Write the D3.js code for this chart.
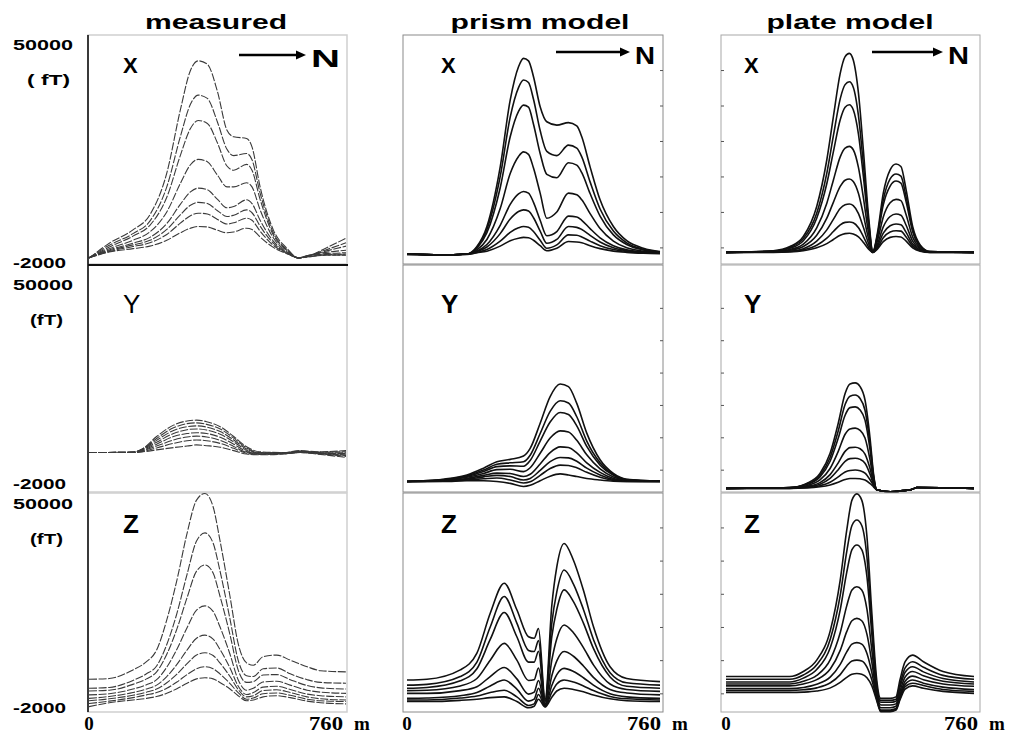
<!DOCTYPE html>
<html>
<head>
<meta charset="utf-8">
<script src="https://cdn.jsdelivr.net/npm/d3@7"></script>
<style>
  body { margin: 0; background: #fff; }
  svg { display: block; }
</style>
</head>
<body>
<svg id="chart" width="1011" height="738"></svg>
<script>
// column titles, component labels and axis labels
const colTitles = ["measured", "prism model", "plate model"];
const rowLabels = ["X", "Y", "Z"];
const yTopLabel = "50000", yBotLabel = "-2000", yDomain = [-2000, 50000];
const xDomain = [0, 760];
const xLabels = ["0", "760", "m"];

// curve values are in units of 1000 fT, sampled along the profile (m)
const measXpos = [0, 60, 130, 180, 230, 270, 300, 323, 350, 380, 408, 428, 466, 482, 506, 545, 585, 620, 645, 700, 760];
const measX = [
  [-1.1, 2.5, 5.7, 9.3, 19.3, 34.4, 43.9, 46.2, 45.4, 38.8, 29.6, 28.0, 27.6, 25.6, 16.0, 5.7, 1.3, -1.1, -0.7, 1.3, 3.7],
  [-1.0, 2.0, 4.8, 7.8, 16.0, 28.0, 35.8, 38.0, 37.2, 31.5, 25.0, 23.5, 24.0, 22.5, 14.5, 5.0, 1.0, -1.0, -0.6, 0.9, 2.6],
  [-1.0, 1.6, 4.2, 6.8, 13.5, 23.5, 30.0, 31.9, 31.2, 26.5, 21.0, 20.0, 21.4, 20.0, 13.0, 4.5, 0.8, -1.0, -0.5, 0.6, 1.8],
  [-1.0, 1.2, 3.2, 5.2, 10.0, 16.8, 21.3, 22.6, 22.0, 18.8, 16.0, 16.0, 17.0, 16.0, 10.5, 3.8, 0.5, -1.0, -0.5, 0.3, 0.8],
  [-1.0, 0.9, 2.5, 3.9, 7.2, 11.8, 14.8, 15.7, 15.3, 13.0, 11.0, 11.3, 12.9, 12.0, 8.0, 3.0, 0.3, -1.0, -0.6, 0.0, 0.2],
  [-1.0, 0.7, 2.1, 3.2, 5.8, 9.3, 11.6, 12.3, 12.0, 10.3, 8.9, 9.2, 10.5, 9.8, 6.6, 2.5, 0.2, -1.0, -0.7, -0.2, -0.1],
  [-1.0, 0.5, 1.7, 2.6, 4.6, 7.3, 9.1, 9.7, 9.5, 8.2, 7.1, 7.4, 8.5, 8.0, 5.4, 2.0, 0.1, -1.0, -0.8, -0.3, -0.3],
  [-1.0, 0.4, 1.2, 1.8, 3.2, 5.0, 6.1, 6.5, 6.4, 5.6, 5.0, 5.2, 6.1, 5.8, 4.0, 1.5, 0.0, -1.0, -0.8, -0.4, -0.4]
];

const prismXpos = [0, 100, 180, 210, 240, 280, 310, 335, 350, 365, 380, 400, 420, 450, 485, 510, 525, 550, 580, 620, 660, 710, 760];
const prismX = [
  [-0.1, -0.3, -0.1, 1.7, 6.5, 20.8, 36.8, 44.8, 46.8, 46.2, 42.4, 35.2, 31.6, 30.8, 31.4, 30.6, 28.0, 20.8, 12.9, 6.5, 3.1, 1.3, 0.5],
  [-0.1, -0.3, -0.1, 1.5, 5.8, 18.5, 32.7, 39.8, 41.6, 41.0, 37.0, 29.5, 24.5, 23.5, 26.0, 25.3, 23.2, 17.2, 10.7, 5.4, 2.6, 1.1, 0.4],
  [-0.1, -0.3, -0.1, 1.3, 5.0, 15.8, 28.0, 34.1, 35.6, 35.1, 31.0, 24.0, 19.0, 18.2, 21.8, 21.2, 19.4, 14.4, 9.0, 4.5, 2.2, 0.9, 0.3],
  [-0.1, -0.3, -0.1, 0.9, 3.4, 10.8, 19.2, 23.3, 24.4, 23.8, 20.5, 14.5, 8.5, 10.0, 14.5, 14.1, 12.9, 9.6, 6.0, 3.0, 1.4, 0.6, 0.2],
  [-0.1, -0.3, -0.1, 0.6, 2.2, 6.8, 11.8, 14.3, 14.9, 14.5, 12.3, 8.0, 4.3, 5.3, 9.0, 8.8, 8.0, 6.0, 3.8, 1.9, 0.9, 0.4, 0.2],
  [-0.1, -0.3, -0.1, 0.5, 1.6, 4.8, 8.3, 10.1, 10.5, 10.2, 8.6, 5.4, 2.5, 3.4, 6.5, 6.3, 5.8, 4.4, 2.8, 1.4, 0.7, 0.3, 0.1],
  [-0.2, -0.3, -0.1, 0.3, 1.0, 3.0, 5.1, 6.2, 6.5, 6.3, 5.3, 3.2, 1.3, 2.1, 4.5, 4.4, 4.0, 3.0, 1.9, 1.0, 0.5, 0.2, 0.1],
  [-0.2, -0.4, -0.2, 0.2, 0.6, 1.8, 3.1, 3.7, 3.9, 3.8, 3.2, 1.9, 0.7, 1.3, 2.9, 2.8, 2.6, 1.9, 1.2, 0.6, 0.3, 0.1, 0.0]
];

const plateXpos = [0, 145, 196, 237, 278, 309, 329, 350, 365, 378, 390, 406, 421, 437, 450, 464, 482, 503, 521, 536, 552, 572, 595, 625, 760];
const plateX = [
  [0.3, 0.7, 1.7, 4.1, 11.3, 22.5, 32.8, 43.2, 47.2, 48.0, 46.4, 38.4, 24.8, 8.9, 0.5, 4.9, 14.5, 20.1, 21.5, 20.9, 15.3, 6.5, 2.1, 0.5, 0.3],
  [0.3, 0.6, 1.5, 3.6, 9.7, 19.3, 28.2, 37.1, 40.5, 41.2, 39.9, 33.0, 21.3, 7.7, 0.5, 4.4, 12.9, 17.9, 19.1, 18.6, 13.6, 5.8, 1.9, 0.5, 0.3],
  [0.3, 0.6, 1.3, 3.1, 8.5, 16.8, 24.4, 32.1, 35.1, 35.7, 34.5, 28.6, 18.5, 6.7, 0.4, 4.0, 11.7, 16.2, 17.4, 16.9, 12.4, 5.3, 1.7, 0.5, 0.3],
  [0.3, 0.5, 1.0, 2.3, 6.2, 12.1, 17.6, 23.2, 25.3, 25.7, 24.9, 20.6, 13.4, 4.9, 0.4, 3.1, 8.8, 12.2, 13.0, 12.7, 9.3, 4.0, 1.4, 0.4, 0.3],
  [0.3, 0.4, 0.8, 1.7, 4.4, 8.5, 12.3, 16.1, 17.6, 17.9, 17.3, 14.4, 9.3, 3.5, 0.4, 2.3, 6.4, 8.9, 9.5, 9.2, 6.8, 3.0, 1.1, 0.4, 0.3],
  [0.3, 0.4, 0.6, 1.2, 3.0, 5.7, 8.2, 10.8, 11.7, 11.9, 11.5, 9.6, 6.3, 2.4, 0.3, 1.8, 4.9, 6.7, 7.1, 6.9, 5.1, 2.3, 0.9, 0.4, 0.3],
  [0.3, 0.4, 0.5, 0.9, 2.0, 3.7, 5.3, 6.9, 7.5, 7.6, 7.4, 6.2, 4.1, 1.6, 0.3, 1.4, 3.8, 5.2, 5.5, 5.4, 4.0, 1.8, 0.7, 0.3, 0.3],
  [0.3, 0.3, 0.4, 0.7, 1.4, 2.4, 3.4, 4.4, 4.8, 4.9, 4.7, 4.0, 2.7, 1.1, 0.3, 1.1, 2.9, 3.9, 4.1, 4.0, 3.0, 1.4, 0.6, 0.3, 0.3]
];

const measYpos = [0, 130, 160, 200, 250, 290, 318, 348, 388, 428, 466, 505, 575, 625, 675, 760];
const measY = [
  [6.0, 6.1, 7.1, 10.2, 13.2, 14.3, 14.5, 14.1, 12.8, 10.2, 7.5, 6.2, 6.0, 6.5, 6.2, 6.5],
  [6.0, 6.1, 7.0, 9.7, 12.5, 13.6, 13.8, 13.4, 12.2, 9.8, 7.2, 6.0, 5.9, 6.4, 6.1, 6.2],
  [6.0, 6.1, 6.9, 9.2, 11.8, 12.8, 13.0, 12.7, 11.5, 9.3, 6.9, 5.9, 5.9, 6.3, 6.0, 5.9],
  [6.0, 6.1, 6.8, 8.7, 11.0, 12.0, 12.2, 11.9, 10.8, 8.8, 6.6, 5.8, 5.8, 6.2, 5.9, 5.7],
  [6.0, 6.0, 6.6, 8.2, 10.2, 11.0, 11.2, 11.0, 10.0, 8.2, 6.3, 5.7, 5.8, 6.1, 5.8, 5.4],
  [6.0, 6.0, 6.5, 7.7, 9.3, 10.1, 10.3, 10.1, 9.2, 7.6, 6.0, 5.6, 5.7, 6.1, 5.8, 5.2],
  [6.0, 6.0, 6.3, 7.2, 8.4, 9.1, 9.3, 9.1, 8.4, 7.1, 5.8, 5.5, 5.7, 6.0, 5.7, 5.0],
  [6.0, 6.0, 6.2, 6.7, 7.3, 7.7, 8.0, 7.8, 7.4, 6.5, 5.6, 5.4, 5.6, 6.0, 5.6, 4.7]
];

const prismYpos = [0, 110, 180, 230, 270, 310, 350, 370, 400, 430, 460, 485, 510, 540, 580, 620, 660, 760];
const prismY = [
  [-1.6, -1.0, 0.1, 1.9, 3.6, 4.2, 5.1, 7.1, 13.7, 20.7, 24.0, 23.3, 18.9, 11.1, 4.1, 0.5, -1.0, -1.5],
  [-1.6, -1.1, -0.1, 1.4, 2.9, 3.3, 3.6, 5.3, 11.0, 16.8, 19.6, 19.0, 15.4, 9.0, 3.3, 0.2, -1.1, -1.5],
  [-1.6, -1.2, -0.3, 1.0, 2.3, 2.5, 2.4, 3.9, 9.0, 14.0, 16.5, 16.0, 13.0, 7.6, 2.7, 0.0, -1.2, -1.5],
  [-1.6, -1.3, -0.5, 0.5, 1.5, 1.6, 1.0, 2.0, 5.8, 9.8, 11.7, 11.4, 9.2, 5.4, 1.7, -0.4, -1.3, -1.5],
  [-1.6, -1.4, -0.8, 0.0, 0.6, 0.5, -0.3, 0.3, 3.0, 6.0, 7.5, 7.3, 5.9, 3.3, 0.8, -0.8, -1.4, -1.6],
  [-1.6, -1.4, -1.0, -0.4, 0.0, -0.3, -1.2, -0.8, 1.3, 3.6, 4.7, 4.6, 3.7, 1.9, 0.1, -1.1, -1.5, -1.6],
  [-1.6, -1.5, -1.2, -0.9, -0.7, -1.2, -2.0, -1.7, 0.0, 1.8, 2.7, 2.6, 2.0, 0.8, -0.5, -1.3, -1.6, -1.6],
  [-1.6, -1.6, -1.4, -1.4, -1.6, -2.1, -2.9, -2.6, -1.4, -0.2, 0.4, 0.1, -0.3, -0.8, -1.2, -1.5, -1.6, -1.6]
];

const plateYpos = [0, 195, 247, 288, 319, 344, 365, 380, 396, 411, 426, 442, 452, 462, 503, 543, 569, 585, 760];
const plateY = [
  [-3.4, -3.2, -2.1, 0.5, 5.8, 13.7, 21.5, 24.0, 24.3, 23.3, 19.8, 9.3, 0.5, -3.8, -4.3, -4.0, -3.7, -3.2, -3.4],
  [-3.4, -3.2, -2.3, 0.0, 4.7, 11.7, 18.6, 20.8, 21.1, 20.2, 17.1, 7.8, 0.0, -3.8, -4.3, -4.0, -3.7, -3.2, -3.4],
  [-3.4, -3.2, -2.4, -0.4, 3.7, 9.8, 15.8, 17.8, 18.0, 17.2, 14.5, 6.4, -0.4, -3.8, -4.3, -4.0, -3.7, -3.2, -3.4],
  [-3.4, -3.3, -2.7, -1.2, 1.8, 6.3, 10.8, 12.2, 12.4, 11.8, 9.8, 3.8, -1.2, -3.8, -4.3, -4.0, -3.7, -3.2, -3.4],
  [-3.4, -3.3, -2.9, -1.9, 0.2, 3.3, 6.3, 7.3, 7.4, 7.0, 5.6, 1.6, -1.9, -3.8, -4.3, -4.0, -3.7, -3.2, -3.4],
  [-3.4, -3.3, -3.0, -2.3, -0.8, 1.5, 3.7, 4.4, 4.5, 4.2, 3.2, 0.2, -2.3, -3.8, -4.3, -4.0, -3.7, -3.2, -3.4],
  [-3.4, -3.4, -3.2, -2.7, -1.8, -0.4, 0.9, 1.3, 1.4, 1.2, 0.6, -1.2, -2.7, -3.8, -4.3, -4.0, -3.7, -3.2, -3.4],
  [-3.4, -3.4, -3.3, -3.0, -2.5, -1.8, -1.1, -0.8, -0.8, -0.9, -1.2, -2.2, -3.0, -3.8, -4.3, -4.0, -3.7, -3.2, -3.4]
];

const measZpos = [0, 60, 130, 170, 200, 230, 260, 290, 318, 343, 367, 387, 417, 441, 466, 486, 515, 555, 595, 645, 685, 760];
const measZ = [
  [5.1, 5.3, 7.5, 9.6, 12.6, 20.3, 30.5, 42.5, 51.0, 52.7, 49.3, 40.8, 26.3, 14.3, 9.3, 8.7, 10.9, 11.3, 10.0, 8.3, 7.3, 7.0],
  [2.8, 3.0, 4.8, 6.5, 8.5, 14.0, 22.0, 32.0, 40.5, 42.6, 40.0, 33.0, 20.5, 10.0, 6.0, 5.8, 7.8, 8.0, 6.5, 5.0, 4.3, 4.1],
  [2.1, 2.3, 3.8, 5.2, 7.0, 11.5, 18.0, 26.0, 32.8, 34.4, 32.3, 26.5, 16.5, 7.5, 4.3, 4.5, 6.2, 6.3, 5.0, 3.5, 2.9, 2.6],
  [1.1, 1.4, 2.6, 3.7, 5.0, 8.2, 12.8, 18.3, 22.8, 23.9, 22.5, 18.6, 11.5, 5.0, 2.3, 2.8, 4.4, 4.6, 3.6, 2.3, 1.8, 1.5],
  [0.2, 0.7, 1.7, 2.6, 3.6, 5.8, 8.9, 12.6, 15.6, 16.4, 15.4, 12.8, 8.0, 3.4, 1.2, 1.7, 3.1, 3.3, 2.5, 1.3, 0.9, 0.6],
  [-0.4, 0.1, 1.0, 1.8, 2.6, 4.2, 6.4, 9.1, 11.3, 11.9, 11.2, 9.3, 5.8, 2.5, 0.6, 0.9, 2.2, 2.4, 1.7, 0.6, 0.1, -0.2],
  [-1.1, -0.5, 0.4, 1.1, 1.7, 2.8, 4.4, 6.3, 7.8, 8.3, 7.8, 6.5, 4.0, 1.7, 0.0, 0.3, 1.4, 1.6, 1.0, 0.0, -0.4, -0.6],
  [-1.9, -0.9, -0.2, 0.2, 0.7, 1.5, 2.7, 4.1, 5.2, 5.5, 5.2, 4.3, 2.6, 0.9, -0.4, -0.2, 0.6, 0.9, 0.4, -0.5, -0.9, -1.2]
];

const prismZpos = [0, 60, 160, 210, 250, 292, 330, 365, 382, 395, 415, 435, 450, 472, 500, 530, 560, 610, 660, 760];
const prismZ = [
  [4.9, 5.1, 7.5, 11.8, 22.0, 29.7, 22.9, 16.0, 15.6, 18.1, 0.0, 24.0, 33.9, 39.9, 35.6, 27.9, 18.6, 8.3, 5.3, 4.5],
  [3.6, 3.8, 5.8, 9.5, 18.5, 26.3, 19.5, 12.5, 12.2, 15.0, -0.4, 19.5, 27.5, 33.1, 29.5, 23.0, 15.3, 6.8, 4.2, 3.6],
  [2.8, 3.0, 4.7, 7.8, 15.3, 22.2, 16.0, 9.5, 9.5, 12.3, -0.8, 16.0, 23.0, 28.0, 25.0, 19.5, 13.0, 5.7, 3.3, 2.8],
  [2.2, 2.3, 3.4, 5.3, 10.0, 14.3, 10.0, 4.8, 5.0, 8.0, -1.2, 10.0, 15.5, 19.0, 17.0, 13.2, 8.8, 3.9, 2.5, 2.0],
  [1.5, 1.5, 2.2, 3.2, 5.8, 8.1, 5.2, 1.3, 1.8, 4.8, -1.5, 6.0, 9.8, 12.2, 11.0, 8.5, 5.6, 2.5, 1.6, 1.1],
  [0.2, 0.3, 0.9, 1.7, 3.4, 4.9, 2.6, -0.5, 0.0, 2.8, -1.7, 3.5, 6.3, 7.9, 7.1, 5.5, 3.6, 1.4, 0.6, 0.2],
  [-0.2, -0.2, 0.3, 0.8, 1.7, 2.3, 0.6, -1.6, -1.2, 1.2, -1.9, 1.8, 3.9, 4.9, 4.4, 3.4, 2.2, 0.7, 0.1, -0.2],
  [-0.6, -0.6, -0.3, 0.0, 0.4, 0.6, -0.6, -2.2, -1.8, 0.0, -2.0, 0.5, 2.1, 2.8, 2.5, 1.9, 1.1, 0.1, -0.4, -0.6]
];

const plateZpos = [0, 195, 237, 278, 320, 350, 370, 386, 401, 416, 432, 447, 462, 474, 503, 521, 533, 549, 572, 605, 665, 760];
const plateZ = [
  [5.8, 5.8, 7.1, 10.0, 17.7, 30.5, 43.3, 51.0, 52.6, 51.0, 41.6, 22.0, 4.9, 0.2, 0.2, 0.6, 4.9, 9.6, 11.3, 9.6, 7.1, 5.8],
  [5.1, 5.1, 6.2, 8.8, 15.5, 26.6, 37.8, 44.5, 45.9, 44.5, 36.3, 19.2, 3.5, -0.3, -0.3, 0.0, 3.8, 8.0, 9.6, 8.2, 6.1, 5.1],
  [4.4, 4.4, 5.4, 7.6, 13.3, 22.9, 32.5, 38.3, 39.5, 38.3, 31.3, 16.6, 2.5, -0.8, -0.8, -0.5, 3.0, 6.9, 8.3, 7.0, 5.3, 4.4],
  [3.9, 3.9, 4.6, 6.1, 10.2, 17.0, 23.9, 28.0, 28.8, 28.0, 23.0, 12.5, 1.8, -1.5, -1.5, -1.2, 2.0, 5.7, 7.1, 6.0, 4.6, 3.9],
  [3.4, 3.4, 3.9, 5.0, 7.8, 12.5, 17.3, 20.1, 20.7, 20.1, 16.6, 9.4, 1.0, -2.2, -2.2, -1.8, 1.2, 4.6, 5.9, 5.0, 3.9, 3.3],
  [2.7, 2.7, 3.0, 3.8, 5.7, 8.9, 12.1, 14.1, 14.5, 14.1, 11.7, 6.8, 0.4, -2.8, -2.8, -2.4, 0.6, 3.8, 4.9, 4.1, 3.1, 2.5],
  [2.2, 2.2, 2.4, 2.9, 4.2, 6.3, 8.5, 9.8, 10.0, 9.8, 8.2, 4.9, 0.0, -3.0, -3.0, -2.6, 0.2, 3.2, 4.1, 3.5, 2.5, 2.0],
  [1.7, 1.7, 1.8, 2.1, 2.9, 4.3, 5.6, 6.4, 6.6, 6.4, 5.5, 3.4, -0.4, -3.2, -3.2, -2.8, -0.2, 2.6, 3.4, 2.8, 2.0, 1.5]
];

const panels = [
  [{xs: measXpos, ys: measX}, {xs: prismXpos, ys: prismX}, {xs: plateXpos, ys: plateX}],
  [{xs: measYpos, ys: measY}, {xs: prismYpos, ys: prismY}, {xs: plateYpos, ys: plateY}],
  [{xs: measZpos, ys: measZ}, {xs: prismZpos, ys: prismZ}, {xs: plateZpos, ys: plateZ}]
];

// layout
const cols = [
  {left: 88, right: 347, x0: 89, x1: 346, title: 216, tw: 142, letter: 123, arrow: 239, n: 311, nw: 29, ay: 55, frame: "#cfcfcf"},
  {left: 403, right: 663, x0: 407, x1: 660, title: 540, tw: 179, letter: 441, arrow: 556, n: 635, nw: 20, ay: 52, frame: "#8a8a8a"},
  {left: 721, right: 980, x0: 726, x1: 974, title: 850, tw: 167, letter: 744, arrow: 872, n: 948, nw: 21, ay: 52, frame: "#a8a8a8"}
];
const rows = [
  {top: 35, bottom: 264, y50: 45, y2: 262, letterY: 73, size: 22},
  {top: 265, bottom: 492, y50: 285, y2: 483, letterY: 313, size: 26},
  {top: 493, bottom: 712, y50: 504, y2: 707, letterY: 533, size: 26}
];
const sideTicks = [1500, 10000, 18500, 27000, 35500, 44000];

const svg = d3.select("#chart");
const sans = "'Liberation Sans', Arial, sans-serif";
const serif = "'Liberation Serif', 'Times New Roman', serif";

// column titles
svg.selectAll("text.title").data(colTitles).join("text")
  .attr("class", "title")
  .attr("x", (d, i) => cols[i].title).attr("y", 29)
  .attr("text-anchor", "middle")
  .attr("font-family", sans).attr("font-weight", "bold").attr("font-size", 21)
  .attr("textLength", (d, i) => cols[i].tw).attr("lengthAdjust", "spacingAndGlyphs")
  .text(d => d);

rows.forEach((r, ri) => {
  const y = d3.scaleLinear().domain(yDomain).range([r.y2, r.y50]);

  cols.forEach((c, ci) => {
    const x = d3.scaleLinear().domain(xDomain).range([c.x0, c.x1]);
    const p = panels[ri][ci];
    const g = svg.append("g");

    g.append("rect")
      .attr("x", c.left).attr("y", r.top)
      .attr("width", c.right - c.left).attr("height", r.bottom - r.top)
      .attr("fill", "none").attr("stroke", c.frame).attr("stroke-width", ci == 0 ? 1.5 : 1);

    // faint tick marks on the model frames
    if (ci > 0) {
      const ax = ci == 1 ? d3.axisRight(y) : d3.axisLeft(y);
      const t = g.append("g")
        .attr("transform", `translate(${ci == 1 ? c.right : c.left},0)`)
        .call(ax.tickValues(sideTicks).tickSize(3).tickFormat(""));
      t.select(".domain").remove();
      t.selectAll("line").attr("stroke", "#555").attr("transform", ci == 1 ? "translate(-3,0)" : "translate(3,0)");
    }

    const line = d3.line()
      .x((d, i) => x(p.xs[i]))
      .y(d => y(d * 1000))
      .curve(d3.curveMonotoneX);

    g.selectAll("path.curve").data(p.ys).join("path")
      .attr("class", "curve")
      .attr("d", line)
      .attr("fill", "none")
      .attr("stroke", ci == 0 ? "#3a3a3a" : "#111")
      .attr("stroke-width", ci == 0 ? 1.1 : 1.6)
      .attr("stroke-dasharray", ci == 0 ? "8,1.6" : null)
      .attr("stroke-linejoin", "round");

    g.append("text")
      .attr("x", c.letter).attr("y", r.letterY)
      .attr("font-family", sans).attr("font-weight", ri == 1 && ci == 0 ? "normal" : "bold")
      .attr("font-size", r.size)
      .text(rowLabels[ri]);

    if (ri == 0) {
      g.append("line")
        .attr("x1", c.arrow).attr("x2", c.n - 14)
        .attr("y1", c.ay).attr("y2", c.ay)
        .attr("stroke", "#000").attr("stroke-width", 2.6);
      g.append("path")
        .attr("d", `M${c.n - 5},${c.ay} L${c.n - 15},${c.ay - 4.5} L${c.n - 15},${c.ay + 4.5} Z`)
        .attr("fill", "#000");
      g.append("text")
        .attr("x", c.n).attr("y", c.ay + 12)
        .attr("font-family", sans).attr("font-weight", "bold").attr("font-size", 23)
        .attr("textLength", c.nw).attr("lengthAdjust", "spacingAndGlyphs")
        .text("N");
    }

    if (ri == 2) {
      g.append("text")
        .attr("x", x(xDomain[0])).attr("y", 730)
        .attr("text-anchor", "middle")
        .attr("font-family", serif).attr("font-weight", "bold").attr("font-size", 19)
        .text(xLabels[0]);
      g.append("text")
        .attr("x", c.right - (ci == 0 ? 4 : 2)).attr("y", 730)
        .attr("text-anchor", "end")
        .attr("font-family", serif).attr("font-weight", "bold").attr("font-size", 19)
        .attr("textLength", 34).attr("lengthAdjust", "spacingAndGlyphs")
        .text(xLabels[1]);
      g.append("text")
        .attr("x", c.right + (ci == 0 ? 7 : 9)).attr("y", 730)
        .attr("font-family", serif).attr("font-weight", "bold").attr("font-size", 19)
        .text(xLabels[2]);
    }
  });

  // left side value labels
  svg.append("text")
    .attr("x", 13).attr("y", y(yDomain[1]) + 5)
    .attr("font-family", sans).attr("font-weight", "bold").attr("font-size", 14)
    .attr("textLength", 60).attr("lengthAdjust", "spacingAndGlyphs")
    .text(yTopLabel);
  svg.append("text")
    .attr("x", ri == 0 ? 27 : 30).attr("y", y(yDomain[1]) + 40)
    .attr("font-family", sans).attr("font-weight", "bold").attr("font-size", 15)
    .attr("textLength", ri == 0 ? 43 : 33).attr("lengthAdjust", "spacingAndGlyphs")
    .text(ri == 0 ? "( fT)" : "(fT)");
  svg.append("text")
    .attr("x", 13).attr("y", y(yDomain[0]) + 6)
    .attr("font-family", sans).attr("font-weight", "bold").attr("font-size", 14)
    .attr("textLength", 53).attr("lengthAdjust", "spacingAndGlyphs")
    .text(yBotLabel);
});

// measured column: dark left axis and the dark rule under the X panel
svg.append("line").attr("x1", 88).attr("x2", 88).attr("y1", 35).attr("y2", 712)
  .attr("stroke", "#111").attr("stroke-width", 1.6);
svg.append("line").attr("x1", 88).attr("x2", 348).attr("y1", 265).attr("y2", 265)
  .attr("stroke", "#111").attr("stroke-width", 2);
</script>
</body>
</html>
